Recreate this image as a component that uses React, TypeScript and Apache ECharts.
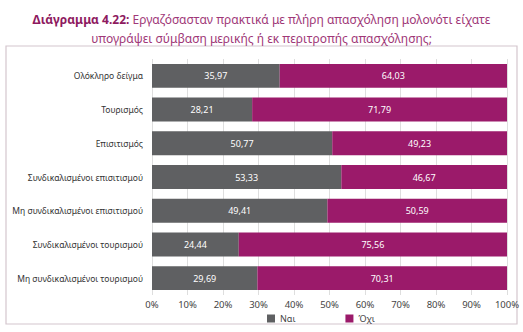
import React, { useEffect, useRef } from "react";
import * as echarts from "echarts";

const categories = [
  "Ολόκληρο δείγμα",
  "Τουρισμός",
  "Επισιτισμός",
  "Συνδικαλισμένοι επισιτισμού",
  "Μη συνδικαλισμένοι επισιτισμού",
  "Συνδικαλισμένοι τουρισμού",
  "Μη συνδικαλισμένοι τουρισμού",
];
const naiValues = [35.97, 28.21, 50.77, 53.33, 49.41, 24.44, 29.69];
const oxiValues = [64.03, 71.79, 49.23, 46.67, 50.59, 75.56, 70.31];
const seriesNames = ["Ναι", "Όχι"];
const titleBold = "Διάγραμμα 4.22:";
const titleRest1 = " Εργαζόσασταν πρακτικά με πλήρη απασχόληση μολονότι είχατε";
const titleLine2 = "υπογράψει σύμβαση μερικής ή εκ περιτροπής απασχόλησης;";

const FONT = "'Noto Sans', sans-serif";

export default function App() {
  const ref = useRef<HTMLDivElement>(null);
  useEffect(() => {
    if (!ref.current) return;
    const chart = echarts.init(ref.current, null, { renderer: "svg" });
    const fmt = (p: any) => String(p.value.toFixed(2)).replace(".", ",");
    chart.setOption({
      animation: false,
      backgroundColor: "#ffffff",
      title: {
        left: "center",
        top: 5,
        text: `{b|${titleBold}}{n|${titleRest1}}\n{n|${titleLine2}}`,
        textStyle: {
          fontWeight: "normal",
          rich: {
            b: { fontFamily: FONT, fontSize: 12, fontWeight: "bold", color: "#8e1a5f", lineHeight: 19 },
            n: { fontFamily: FONT, fontSize: 12, fontWeight: "normal", color: "#a03878", lineHeight: 19 },
          },
        },
      },
      graphic: [
        {
          type: "rect",
          shape: { x: 6, y: 46, width: 511, height: 278 },
          style: { fill: "none", stroke: "#d4c6cd", lineWidth: 1.2 },
          z: -1,
        },
      ],
      legend: {
        top: 309,
        left: 262,
        itemWidth: 8,
        itemHeight: 8,
        itemGap: 50,
        icon: "rect",
        textStyle: { fontFamily: FONT, fontSize: 9, color: "#444" },
        data: seriesNames,
      },
      grid: { left: 152, right: 16, top: 59, bottom: 37 },
      xAxis: {
        type: "value",
        min: 0,
        max: 100,
        interval: 10,
        axisLabel: {
          formatter: "{value}%",
          fontFamily: FONT,
          fontSize: 9.5,
          color: "#444",
          margin: 4,
        },
        axisLine: { show: false },
        axisTick: { show: false },
        splitLine: { show: true, lineStyle: { color: "#dedede", width: 1 } },
      },
      yAxis: {
        type: "category",
        inverse: true,
        data: categories,
        axisLine: { show: false },
        axisTick: { show: false },
        axisLabel: { fontFamily: FONT, fontSize: 8.5, color: "#333", margin: 9 },
      },
      series: [
        {
          name: seriesNames[0],
          type: "bar",
          stack: "total",
          barCategoryGap: "29%",
          data: naiValues,
          itemStyle: { color: "#5f6062" },
          label: { show: true, position: "inside", color: "#fff", fontFamily: FONT, fontSize: 9, formatter: fmt },
        },
        {
          name: seriesNames[1],
          type: "bar",
          stack: "total",
          barCategoryGap: "29%",
          data: oxiValues,
          itemStyle: { color: "#9b1a6a" },
          label: { show: true, position: "inside", color: "#fff", fontFamily: FONT, fontSize: 9, formatter: fmt },
        },
      ],
    });
    return () => chart.dispose();
  }, []);
  return (
    <div
      ref={ref}
      style={{ position: "fixed", left: 0, top: 0, width: 523, height: 332 }}
    />
  );
}
